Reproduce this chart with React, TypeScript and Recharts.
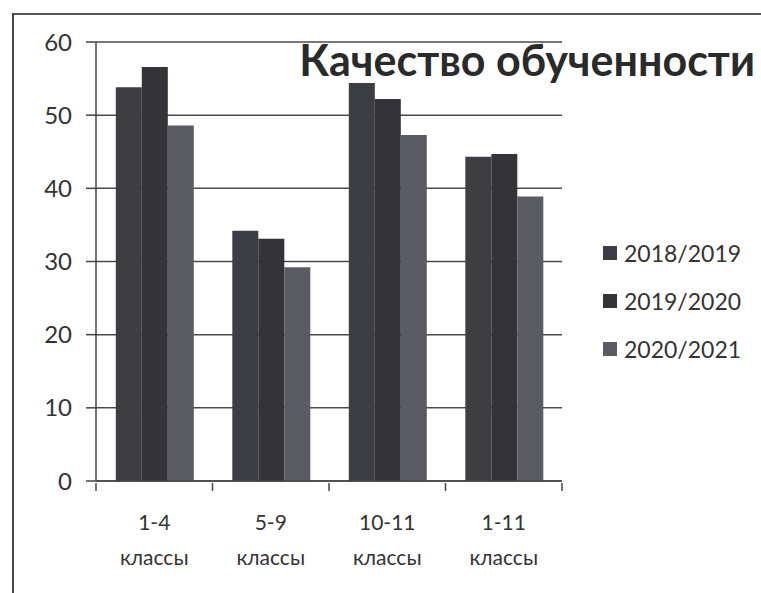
import { BarChart, Bar, XAxis, YAxis, CartesianGrid } from 'recharts';

const categories = ['1-4 классы', '5-9 классы', '10-11 классы', '1-11 классы'];
const s2018 = [53.8, 34.2, 54.4, 44.3];
const s2019 = [56.6, 33.1, 52.2, 44.7];
const s2020 = [48.6, 29.2, 47.3, 38.9];
const yTicks = [0, 10, 20, 30, 40, 50, 60];

const series = [
  { key: 's2018', name: '2018/2019', color: '#3d3d44' },
  { key: 's2019', name: '2019/2020', color: '#333338' },
  { key: 's2020', name: '2020/2021', color: '#5a5b63' },
];

const data = categories.map((c, i) => ({
  name: c,
  s2018: s2018[i],
  s2019: s2019[i],
  s2020: s2020[i],
}));

const FONT = 'Lato, "Open Sans", sans-serif';
const W = 761;
const H = 593;
const M = { top: 42, right: 199, bottom: 42, left: 0 };
const Y_WIDTH = 96;
const HALF_BAND = (W - M.left - M.right - Y_WIDTH) / categories.length / 2;

function XTick(props: any) {
  const { x, y, payload, index } = props;
  const [top, bottom] = String(payload.value).split(' ');
  return (
    <g>
      {index === 0 && (
        <line x1={x - HALF_BAND} x2={x - HALF_BAND} y1={y} y2={y + 8} stroke="#444" strokeWidth={1.5} />
      )}
      <line x1={x + HALF_BAND} x2={x + HALF_BAND} y1={y} y2={y + 8} stroke="#444" strokeWidth={1.5} />
      <text x={x} y={y} textAnchor="middle" fill="#333" fontSize={21} fontFamily={FONT}>
        <tspan x={x} dy={47}>{top}</tspan>
        <tspan x={x} dy={35}>{bottom}</tspan>
      </text>
    </g>
  );
}

export default function App() {
  return (
    <div style={{ position: 'absolute', left: 0, top: 0, width: W, height: H, background: '#fff' }}>
      <div style={{ position: 'absolute', left: 12, top: 13, width: 749, height: 2, background: '#555' }} />
      <div style={{ position: 'absolute', left: 12, top: 13, width: 2, height: 580, background: '#444' }} />
      <BarChart width={W} height={H} data={data} margin={M} barCategoryGap="17%" barGap={0}>
        <CartesianGrid horizontal vertical={false} stroke="#4a4a4a" strokeWidth={1.5} />
        <XAxis
          dataKey="name"
          height={70}
          tick={<XTick />}
          tickLine={false}
          tickSize={0}
          axisLine={{ stroke: '#444', strokeWidth: 1.5 }}
          interval={0}
        />
        <YAxis
          width={Y_WIDTH}
          domain={[0, 60]}
          ticks={yTicks}
          tickSize={10}
          tickMargin={14}
          tickLine={{ stroke: '#444', strokeWidth: 1.5 }}
          axisLine={{ stroke: '#444', strokeWidth: 1.5 }}
          tick={{ fill: '#333', fontSize: 24, fontFamily: FONT }}
        />
        {series.map((s) => (
          <Bar key={s.key} dataKey={s.key} name={s.name} fill={s.color} isAnimationActive={false} />
        ))}
      </BarChart>
      <div style={{ position: 'absolute', left: 603, top: 229, fontFamily: FONT, fontSize: 23, color: '#333' }}>
        {series.map((s) => (
          <div key={s.key} style={{ display: 'flex', alignItems: 'center', height: 48 }}>
            <span style={{ width: 14, height: 14, background: s.color, marginRight: 7, display: 'inline-block' }} />
            {s.name}
          </div>
        ))}
      </div>
      <div
        style={{
          position: 'absolute',
          right: 6,
          top: 38,
          fontFamily: FONT,
          fontWeight: 700,
          fontSize: 43,
          lineHeight: 1,
          color: '#2a2a2a',
          whiteSpace: 'nowrap',
        }}
      >
        Качество обученности
      </div>
    </div>
  );
}
